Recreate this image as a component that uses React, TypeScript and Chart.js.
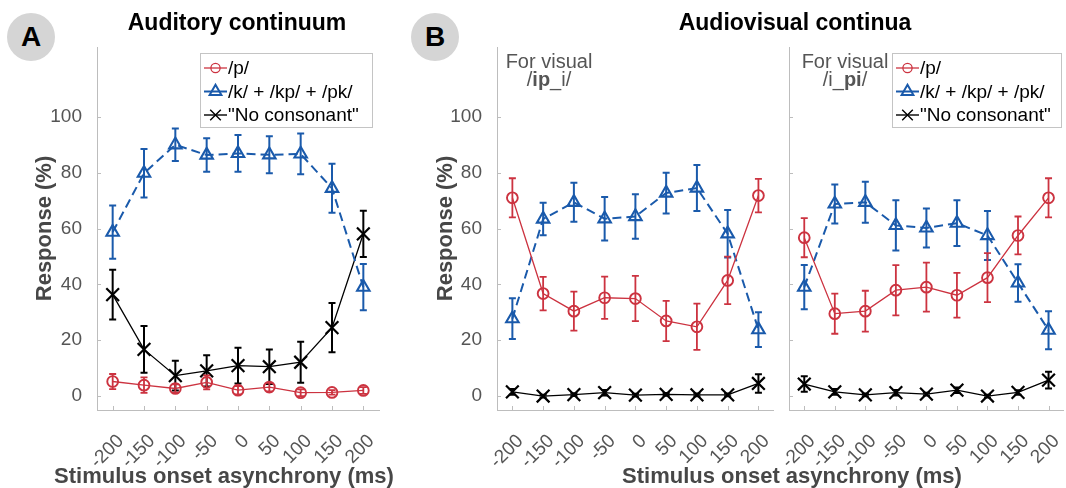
import React, { useEffect, useRef } from 'react';
import { Chart, registerables } from 'chart.js';

Chart.register(...registerables);

// ---------- data ----------
const SOA = [-200, -150, -100, -50, 0, 50, 100, 150, 200];
const Y_TICKS = [0, 20, 40, 60, 80, 100];
const SERIES_LABELS = ['/p/', '/k/ + /kp/ + /pk/', '"No consonant"'];

// Panel A: auditory continuum
const A_P = [5.2, 3.9, 2.7, 4.9, 2.1, 3.2, 1.2, 1.3, 2.0];
const A_P_ERR = [2.7, 2.8, 1.5, 2.5, 1.5, 1.5, 1.2, 0.8, 1.2];
const A_K = [58.7, 79.8, 90.0, 86.3, 86.9, 86.4, 86.7, 74.4, 39.0];
const A_K_ERR = [9.5, 8.7, 5.8, 6.0, 6.6, 6.6, 7.3, 8.8, 8.3];
const A_NC = [36.3, 16.7, 7.3, 9.0, 10.9, 10.5, 12.1, 24.5, 58.1];
const A_NC_ERR = [8.9, 8.4, 5.3, 5.6, 6.4, 6.2, 7.3, 8.8, 8.3];

// Panel B, for visual /ip_i/
const B1_P = [71.0, 36.7, 30.4, 35.2, 34.9, 26.9, 24.8, 41.4, 71.8];
const B1_P_ERR = [7.0, 6.0, 7.0, 7.6, 8.1, 7.2, 8.3, 8.5, 6.0];
const B1_K = [27.7, 63.4, 69.4, 63.5, 64.3, 72.7, 74.5, 58.1, 23.8];
const B1_K_ERR = [7.3, 5.8, 7.0, 7.8, 8.0, 7.3, 8.2, 8.5, 6.2];
const B1_NC = [1.5, 0.0, 0.5, 1.2, 0.3, 0.6, 0.4, 0.4, 4.5];
const B1_NC_ERR = [1.0, 0.5, 0.5, 1.0, 0.5, 0.5, 0.5, 0.5, 3.3];

// Panel B, for visual /i_pi/
const B2_P = [56.7, 29.5, 30.4, 37.9, 39.0, 36.1, 42.4, 57.5, 71.0];
const B2_P_ERR = [7.0, 7.2, 7.3, 9.0, 8.8, 8.0, 8.8, 6.8, 7.0];
const B2_K = [39.0, 68.8, 69.4, 61.1, 60.2, 61.9, 57.5, 40.5, 23.6];
const B2_K_ERR = [7.9, 7.0, 7.3, 9.0, 7.0, 8.2, 8.8, 6.7, 6.8];
const B2_NC = [4.3, 1.5, 0.4, 1.2, 0.7, 2.1, 0.0, 1.3, 5.7];
const B2_NC_ERR = [2.8, 1.0, 0.5, 1.0, 0.5, 1.0, 0.5, 0.8, 3.0];

// ---------- styles ----------
const FONT = '"Liberation Sans", Arial, Helvetica, sans-serif';
const RED = '#cc3340';
const BLUE = '#1a5aab';
const BLACK = '#000000';
const AXIS = '#bdbdbd';
const TICK = '#555555';
const TITLE = '#474747';

Chart.defaults.font.family = FONT;

function makeDatasets(p: number[], pe: number[], k: number[], ke: number[], nc: number[], nce: number[]) {
  const pts = (arr: number[]) => SOA.map((x, i) => ({ x, y: arr[i] }));
  return [
    {
      label: SERIES_LABELS[0], data: pts(p), errors: pe, errLineWidth: 1.8,
      borderColor: RED, borderWidth: 1.3, tension: 0,
      pointStyle: 'circle', pointRadius: 5.4, pointBorderWidth: 1.9,
      pointBorderColor: RED, pointBackgroundColor: 'rgba(0,0,0,0)',
    },
    {
      label: SERIES_LABELS[1], data: pts(k), errors: ke, errLineWidth: 2,
      borderColor: BLUE, borderWidth: 2, borderDash: [9, 5], tension: 0,
      pointStyle: 'triangle', pointRadius: 7.2, pointBorderWidth: 2.1,
      pointBorderColor: BLUE, pointBackgroundColor: 'rgba(0,0,0,0)',
    },
    {
      label: SERIES_LABELS[2], data: pts(nc), errors: nce, errLineWidth: 2,
      borderColor: BLACK, borderWidth: 1.3, tension: 0,
      pointStyle: 'crossRot', pointRadius: 9, pointBorderWidth: 2.2,
      pointBorderColor: BLACK, pointBackgroundColor: 'rgba(0,0,0,0)',
    },
  ];
}

const errorBarPlugin = {
  id: 'errorBars',
  afterDatasetDraw(chart: any, args: any) {
    const ds = chart.data.datasets[args.index];
    const errs: number[] | undefined = ds.errors;
    if (!errs) return;
    const ys = chart.scales.y;
    const ctx = chart.ctx;
    ctx.save();
    ctx.strokeStyle = ds.borderColor;
    ctx.lineWidth = ds.errLineWidth || 1.5;
    ctx.setLineDash([]);
    const cap = 3.5;
    args.meta.data.forEach((pt: any, i: number) => {
      const v = ds.data[i].y;
      const e = errs[i];
      const top = ys.getPixelForValue(v + e);
      const bot = ys.getPixelForValue(v - e);
      const x = pt.x;
      ctx.beginPath();
      ctx.moveTo(x, top); ctx.lineTo(x, bot);
      ctx.moveTo(x - cap, top); ctx.lineTo(x + cap, top);
      ctx.moveTo(x - cap, bot); ctx.lineTo(x + cap, bot);
      ctx.stroke();
    });
    ctx.restore();
  },
};

const inwardTicksPlugin = {
  id: 'inwardTicks',
  afterDraw(chart: any) {
    const { ctx, chartArea } = chart;
    const xs = chart.scales.x, ys = chart.scales.y;
    ctx.save();
    ctx.strokeStyle = AXIS;
    ctx.lineWidth = 1;
    ctx.beginPath();
    xs.ticks.forEach((t: any) => {
      const px = Math.round(xs.getPixelForValue(t.value)) + 0.5;
      ctx.moveTo(px, chartArea.bottom);
      ctx.lineTo(px, chartArea.bottom - 4);
    });
    ys.ticks.forEach((t: any) => {
      const py = Math.round(ys.getPixelForValue(t.value)) + 0.5;
      ctx.moveTo(chartArea.left, py);
      ctx.lineTo(chartArea.left + 4, py);
    });
    ctx.stroke();
    ctx.restore();
  },
};

function drawMarker(ctx: CanvasRenderingContext2D, style: string, x: number, y: number, r: number) {
  ctx.beginPath();
  if (style === 'circle') {
    ctx.arc(x, y, r, 0, Math.PI * 2);
  } else if (style === 'triangle') {
    ctx.moveTo(x, y - r);
    ctx.lineTo(x + 0.866 * r, y + 0.5 * r);
    ctx.lineTo(x - 0.866 * r, y + 0.5 * r);
    ctx.closePath();
  } else {
    const a = r * 0.707;
    ctx.moveTo(x - a, y - a); ctx.lineTo(x + a, y + a);
    ctx.moveTo(x + a, y - a); ctx.lineTo(x - a, y + a);
  }
  ctx.stroke();
}

const legendPlugin = {
  id: 'boxLegend',
  afterDraw(chart: any, _args: any, opts: any) {
    if (!opts || !opts.show) return;
    const ctx: CanvasRenderingContext2D = chart.ctx;
    const { left, top, width, height } = opts;
    ctx.save();
    ctx.fillStyle = '#ffffff';
    ctx.fillRect(left, top, width, height);
    ctx.strokeStyle = '#c4c4c4';
    ctx.lineWidth = 1;
    ctx.strokeRect(left + 0.5, top + 0.5, width, height);
    const rows = [top + 15, top + 38.5, top + 62];
    const x0 = left + 4, x1 = left + 27, xm = (x0 + x1) / 2;
    const spec = [
      { color: RED, lw: 1.3, style: 'circle', r: 4.6 },
      { color: BLUE, lw: 2, style: 'triangle', r: 6.8 },
      { color: BLACK, lw: 1.4, style: 'crossRot', r: 7.5 },
    ];
    chart.data.datasets.forEach((ds: any, i: number) => {
      const s = spec[i];
      const y = rows[i];
      ctx.strokeStyle = s.color;
      ctx.lineWidth = s.lw;
      ctx.beginPath();
      ctx.moveTo(x0, y); ctx.lineTo(x1, y);
      ctx.stroke();
      drawMarker(ctx, s.style, xm, y, s.r);
      ctx.fillStyle = '#000000';
      ctx.font = `19px ${FONT}`;
      ctx.textBaseline = 'middle';
      ctx.textAlign = 'left';
      ctx.fillText(ds.label, x1 + 1, y + 1);
    });
    ctx.restore();
  },
};

type PanelProps = {
  left: number; width: number; yWidth: number; padRight: number;
  showYLabels: boolean; yTitle: boolean; yTitlePad: number;
  series: number[][];
  legend: any;
};

function Panel(props: PanelProps) {
  const ref = useRef<HTMLCanvasElement>(null);
  useEffect(() => {
    const [p, pe, k, ke, nc, nce] = props.series;
    const chart = new Chart(ref.current as HTMLCanvasElement, {
      type: 'line',
      data: { datasets: makeDatasets(p, pe, k, ke, nc, nce) as any },
      options: {
        responsive: false,
        animation: false,
        devicePixelRatio: 1,
        events: [],
        layout: { padding: { left: 0, right: props.padRight, top: 47, bottom: 0 } },
        plugins: {
          legend: { display: false },
          title: { display: false },
          tooltip: { enabled: false },
          boxLegend: props.legend,
        } as any,
        scales: {
          x: {
            type: 'linear', min: -225, max: 225,
            afterBuildTicks: (s: any) => { s.ticks = SOA.map((v) => ({ value: v })); },
            afterFit: (s: any) => { s.height = 78; s.paddingLeft = 0; s.paddingRight = 0; },
            grid: { display: false },
            border: { display: true, color: AXIS, width: 1 },
            ticks: {
              autoSkip: false, minRotation: 45, maxRotation: 45, padding: 12, labelOffset: 8,
              color: TICK, font: { size: 19, lineHeight: 1.2 },
              callback: (v: any) => String(v),
            },
          },
          y: {
            type: 'linear', min: -5, max: 125,
            afterBuildTicks: (s: any) => { s.ticks = Y_TICKS.map((v) => ({ value: v })); },
            afterFit: (s: any) => { s.width = props.yWidth; s.paddingTop = 0; s.paddingBottom = 0; },
            grid: { display: false },
            border: { display: true, color: AXIS, width: 1 },
            ticks: {
              display: props.showYLabels, padding: 7, color: TICK,
              font: { size: 19 }, callback: (v: any) => String(v),
            },
            title: {
              display: props.yTitle, text: 'Response (%)', color: TITLE,
              font: { size: 22, weight: 'bold', lineHeight: 1.2 },
              padding: { top: props.yTitlePad, bottom: 0 },
            },
          },
        } as any,
      },
      plugins: [errorBarPlugin, inwardTicksPlugin, legendPlugin],
    });
    return () => chart.destroy();
  }, []);
  return (
    <canvas
      ref={ref}
      width={props.width}
      height={488}
      style={{ position: 'absolute', left: props.left, top: 0, width: props.width, height: 488 }}
    />
  );
}

const circleStyle = (left: number): React.CSSProperties => ({
  position: 'absolute', left, top: 13, width: 48, height: 48, borderRadius: '50%',
  background: '#d5d5d5', color: '#000', fontWeight: 'bold', fontSize: 28,
  lineHeight: '48px', textAlign: 'center', fontFamily: FONT,
});

const titleStyle = (center: number, top: number, size: number, color: string): React.CSSProperties => ({
  position: 'absolute', left: center - 250, width: 500, top, textAlign: 'center',
  fontWeight: 'bold', fontSize: size, lineHeight: `${size + 4}px`, color, fontFamily: FONT,
  whiteSpace: 'nowrap',
});

const noteStyle = (center: number): React.CSSProperties => ({
  position: 'absolute', left: center - 60, width: 120, top: 52, textAlign: 'center',
  fontSize: 20, lineHeight: '18px', color: '#555555', fontFamily: FONT, whiteSpace: 'nowrap',
});

export default function App() {
  return (
    <div style={{ position: 'fixed', left: 0, top: 0, width: 1066, height: 488, overflow: 'hidden', background: '#ffffff' }}>
      <Panel
        left={0} width={400} yWidth={97} padRight={21}
        showYLabels={true} yTitle={true} yTitlePad={32}
        series={[A_P, A_P_ERR, A_K, A_K_ERR, A_NC, A_NC_ERR]}
        legend={{ show: true, left: 200, top: 53, width: 172, height: 74 }}
      />
      <Panel
        left={400} width={385} yWidth={97} padRight={10}
        showYLabels={true} yTitle={true} yTitlePad={33}
        series={[B1_P, B1_P_ERR, B1_K, B1_K_ERR, B1_NC, B1_NC_ERR]}
        legend={{ show: false }}
      />
      <Panel
        left={775} width={300} yWidth={14} padRight={7}
        showYLabels={false} yTitle={false} yTitlePad={0}
        series={[B2_P, B2_P_ERR, B2_K, B2_K_ERR, B2_NC, B2_NC_ERR]}
        legend={{ show: true, left: 117, top: 53, width: 169, height: 74 }}
      />
      <div style={circleStyle(7)}>A</div>
      <div style={circleStyle(411)}>B</div>
      <div style={titleStyle(237, 9, 23, '#000000')}>Auditory continuum</div>
      <div style={titleStyle(795, 9, 23, '#000000')}>Audiovisual continua</div>
      <div style={titleStyle(224, 463, 22, TITLE)}>Stimulus onset asynchrony (ms)</div>
      <div style={titleStyle(792, 463, 22, TITLE)}>Stimulus onset asynchrony (ms)</div>
      <div style={noteStyle(549)}>
        <div>For visual</div>
        <div>/<b>ip</b>_i/</div>
      </div>
      <div style={noteStyle(845)}>
        <div>For visual</div>
        <div>/i_<b>pi</b>/</div>
      </div>
    </div>
  );
}
